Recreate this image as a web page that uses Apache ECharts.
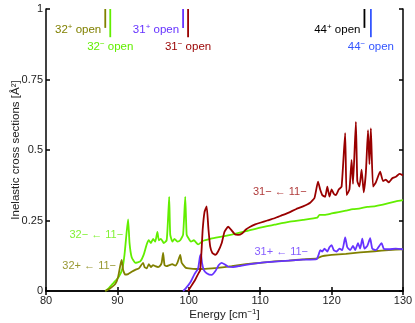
<!DOCTYPE html>
<html>
<head>
<meta charset="utf-8">
<script src="https://cdn.jsdelivr.net/npm/echarts@6/dist/echarts.min.js"></script>
<style>
  html, body { margin: 0; padding: 0; background: #fff; }
  #chartDiv { width: 415px; height: 323px; }
</style>
</head>
<body>
<div id="chartDiv"></div>
<script>
// 图表
let myChart = echarts.init(document.getElementById('chartDiv'));
window.onresize = myChart.resize;

// 数据 (energy [cm-1], cross section [A^2])
let green32m = [
    [88.3,0],[88.8,0.01],[89.5,0.03],[90.2,0.05],[90.7,0.08],[91.0,0.13],[91.3,0.21],[91.5,0.254],
    [91.7,0.17],[92.0,0.12],[92.5,0.10],[93.2,0.105],[93.7,0.13],[94.1,0.165],[94.4,0.18],[94.7,0.17],
    [95.0,0.185],[95.3,0.175],[95.6,0.21],[95.8,0.18],[96.1,0.185],[96.5,0.17],[96.9,0.18],[97.1,0.26],
    [97.25,0.334],[97.4,0.2],[97.7,0.175],[98.0,0.185],[98.4,0.175],[98.8,0.18],[99.2,0.2],[99.5,0.334],
    [99.7,0.2],[100.0,0.185],[100.3,0.175],[100.7,0.18],[101.3,0.165],[102.0,0.178],[103,0.185],[104,0.19],
    [106,0.2],[108,0.212],[110,0.225],[112,0.235],[114,0.245],[116,0.252],[118,0.26],[118.3,0.27],
    [119,0.27],[120,0.275],[121,0.28],[122,0.285],[123,0.29],[124,0.293],[125,0.298],[126,0.3],
    [127,0.305],[128,0.312],[129,0.318],[130,0.322]
];
let olive32p = [
    [88.3,0],[89,0.01],[89.7,0.025],[90.1,0.05],[90.4,0.09],[90.6,0.11],[90.8,0.075],[91.1,0.058],
    [91.5,0.06],[92.0,0.068],[92.5,0.075],[93,0.08],[93.6,0.1],[93.8,0.085],[94.1,0.08],[94.4,0.095],
    [94.7,0.085],[95.0,0.092],[95.3,0.088],[95.7,0.085],[96.0,0.09],[96.2,0.1],[96.4,0.135],[96.6,0.092],
    [96.9,0.088],[97.3,0.092],[97.7,0.095],[98.1,0.09],[98.4,0.1],[98.8,0.128],[99.0,0.1],[99.3,0.09],
    [99.6,0.082],[100,0.08],[101,0.078],[102,0.078],[104,0.082],[106,0.088],[108,0.095],[110,0.1],
    [112,0.105],[114,0.108],[116,0.112],[118,0.116],[118.5,0.122],[119,0.125],[120,0.128],[122,0.132],
    [124,0.137],[126,0.141],[128,0.145],[130,0.148]
];
let purple31p = [
    [99.2,0],[99.6,0.01],[100.2,0.03],[100.8,0.06],[101.3,0.08],[101.55,0.12],[101.7,0.13],[101.85,0.1],
    [102.1,0.075],[102.5,0.063],[103.2,0.057],[103.7,0.07],[104.2,0.092],[104.6,0.1],[105.0,0.095],
    [105.5,0.086],[106.2,0.085],[107,0.088],[108,0.093],[110,0.1],[112,0.104],[114,0.108],[116,0.111],
    [117.9,0.113],[118.2,0.13],[118.4,0.145],[118.7,0.14],[119,0.15],[119.4,0.14],[119.7,0.155],
    [120,0.163],[120.3,0.145],[120.7,0.14],[121.1,0.15],[121.5,0.145],[121.9,0.19],[122.2,0.155],
    [122.6,0.145],[123,0.16],[123.3,0.145],[123.7,0.17],[124,0.15],[124.3,0.186],[124.6,0.15],
    [125.0,0.16],[125.4,0.187],[125.7,0.15],[126.2,0.145],[127,0.17],[127.3,0.15],[128,0.148],
    [129,0.15],[130,0.148]
];
let red31m = [
    [99.9,0],[100.4,0.02],[100.9,0.04],[101.3,0.06],[101.6,0.074],[101.8,0.15],[101.95,0.22],[102.2,0.28],
    [102.5,0.30],[102.75,0.22],[103.0,0.157],[103.3,0.135],[103.7,0.128],[104.1,0.14],[104.6,0.169],
    [105.0,0.21],[105.5,0.228],[106.0,0.215],[106.5,0.2],[106.9,0.199],[107.5,0.205],[108.0,0.218],
    [108.6,0.228],[109.3,0.236],[110,0.242],[111,0.25],[112,0.258],[113,0.268],[114,0.278],[115,0.29],
    [116,0.3],[117,0.313],[117.6,0.33],[118.1,0.388],[118.4,0.36],[118.7,0.34],[119.1,0.334],[119.4,0.37],
    [119.7,0.335],[120.0,0.36],[120.3,0.345],[120.6,0.34],[121.0,0.36],[121.4,0.37],[121.9,0.56],
    [122.1,0.34],[122.5,0.36],[122.8,0.465],[123.0,0.38],[123.4,0.60],[123.6,0.39],[123.9,0.37],
    [124.2,0.43],[124.5,0.35],[124.8,0.42],[125.1,0.57],[125.3,0.45],[125.5,0.577],[125.8,0.37],
    [126.2,0.385],[126.8,0.423],[127.2,0.39],[127.6,0.395],[128,0.385],[128.5,0.4],[129,0.405],
    [129.5,0.415],[130,0.41]
];

// 阈值 (channel opening)
let thrNames    = ['32{s|+} open', '32{s|−} open', '31{s|+} open', '31{s|−} open', '44{s|+} open', '44{s|−} open'];
let thrEnergies = [88.3, 89.0, 99.2, 99.9, 124.6, 125.5];
let thrBottoms  = [0.933, 0.90, 0.933, 0.90, 0.933, 0.90];
let thrColors   = ['#808000', '#62ee00', '#6633ff', '#990000', '#000000', '#3355ff'];

// 曲线标签
let curveNames  = ['32− ← 11−', '32+ ← 11−', '31− ← 11−', '31+ ← 11−'];
let curveColors = ['#62ee00', '#808000', '#990000', '#6633ff'];
let curveAnchor = [[90.8, 0.199], [89.8, 0.089], [116.5, 0.351], [116.7, 0.138]];

let fontName = 'Liberation Sans';

let series = [];
let curves = [green32m, olive32p, purple31p, red31m];
let curveCol = ['#62ee00', '#808000', '#6633ff', '#990000'];
for (let i = 0; i < curves.length; i++) {
    series.push({
        type: 'line',
        data: curves[i],
        showSymbol: false,
        smooth: 0.15,
        lineStyle: { color: curveCol[i], width: 1.8 },
        z: 3
    });
}

for (let i = 0; i < thrEnergies.length; i++) {
    let isPlus = (i % 2 === 0);
    series.push({
        type: 'line',
        data: [[thrEnergies[i], 1], [thrEnergies[i], thrBottoms[i]]],
        showSymbol: false,
        symbol: 'none',
        lineStyle: { color: thrColors[i], width: 1.8 },
        markPoint: {
            symbol: 'circle',
            symbolSize: 0,
            data: [{ coord: [thrEnergies[i], thrBottoms[i]] }],
            label: {
                show: true,
                formatter: thrNames[i],
                position: isPlus ? 'left' : 'bottom',
                distance: isPlus ? 4 : 3,
                offset: isPlus ? [0, 2] : [0, 0],
                color: thrColors[i],
                fontFamily: fontName,
                fontSize: 11.5,
                rich: {
                    s: { fontSize: 8, verticalAlign: 'top', padding: [0, 0, 6, 0], color: thrColors[i], fontFamily: fontName }
                }
            }
        },
        z: 4
    });
}

for (let i = 0; i < curveNames.length; i++) {
    series.push({
        type: 'scatter',
        data: [curveAnchor[i]],
        symbolSize: 0,
        silent: true,
        label: {
            show: true,
            formatter: curveNames[i],
            position: 'left',
            distance: 0,
            color: curveColors[i],
            fontFamily: fontName,
            fontSize: 11
        },
        z: 5
    });
}

let axisLineStyle = { color: '#000', width: 1.5 };

// 图表设置
let option = {
    backgroundColor: '#fff',
    animation: false,
    grid: { left: 46, right: 12, top: 9, bottom: 32, containLabel: false, outerBoundsMode: 'none' },
    xAxis: [
        {
            type: 'value', min: 80, max: 130, interval: 10,
            name: 'Energy [cm{s|−1}]',
            nameLocation: 'middle',
            nameGap: 17,
            nameMoveOverlap: false,
            nameTextStyle: {
                color: '#222', fontFamily: fontName, fontSize: 11.5,
                rich: { s: { fontSize: 8, verticalAlign: 'top', padding: [0, 0, 6, 0], fontFamily: fontName, color: '#222' } }
            },
            axisLine: { lineStyle: axisLineStyle },
            axisTick: { inside: true, length: 4, lineStyle: axisLineStyle },
            axisLabel: { color: '#222', fontFamily: fontName, fontSize: 11, margin: 4 },
            splitLine: { show: false }
        },
        {
            type: 'value', min: 80, max: 130, interval: 10, position: 'top',
            axisLine: { show: true, lineStyle: axisLineStyle },
            axisTick: { show: true, inside: true, length: 4, lineStyle: axisLineStyle },
            axisLabel: { show: false },
            splitLine: { show: false }
        }
    ],
    yAxis: [
        {
            type: 'value', min: 0, max: 1, interval: 0.25,
            name: 'Inelastic cross sections [Å²]',
            nameLocation: 'middle',
            nameGap: 24,
            nameMoveOverlap: false,
            nameTextStyle: { color: '#222', fontFamily: fontName, fontSize: 11.5 },
            axisLine: { show: true, lineStyle: axisLineStyle },
            axisTick: { show: true, inside: true, length: 4, lineStyle: axisLineStyle },
            axisLabel: { color: '#222', fontFamily: fontName, fontSize: 11, margin: 3 },
            splitLine: { show: false }
        },
        {
            type: 'value', min: 0, max: 1, interval: 0.25, position: 'right',
            axisLine: { show: true, lineStyle: axisLineStyle },
            axisTick: { show: true, inside: true, length: 4, lineStyle: axisLineStyle },
            axisLabel: { show: false },
            splitLine: { show: false }
        }
    ],
    series: series
};
myChart.setOption(option);
</script>
</body>
</html>
